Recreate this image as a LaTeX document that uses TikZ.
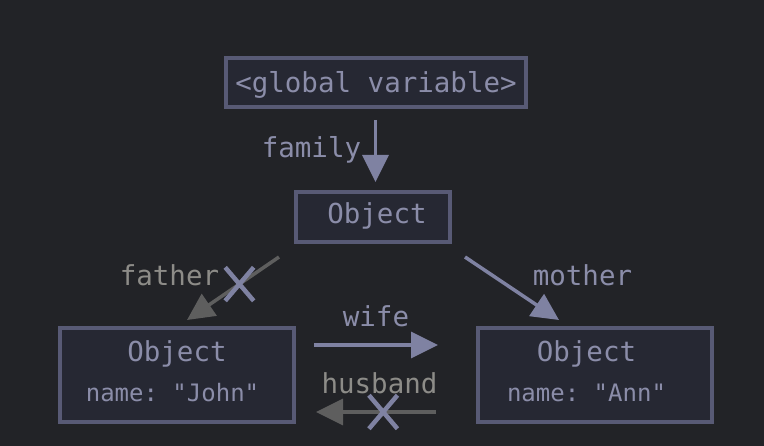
\documentclass[tikz,border=0pt]{standalone}
\usepackage{fontspec}
\setmonofont{DejaVu Sans Mono}
\usetikzlibrary{arrows.meta,calc,shapes.misc}

\definecolor{bgc}{HTML}{222327}
\definecolor{boxfill}{HTML}{262833}
\definecolor{boxline}{HTML}{585A75}
\definecolor{bluetxt}{HTML}{8B8DA9}
\definecolor{bluearrow}{HTML}{7F82A2}
\definecolor{greyarrow}{HTML}{5E5E5E}
\definecolor{greytxt}{HTML}{8D8C88}

\begin{document}
\begin{tikzpicture}[x=1pt,y=-1pt,
    objbox/.style={draw=boxline, fill=boxfill, line width=4pt, inner sep=0pt, outer sep=0pt},
    txt/.style={text=bluetxt, font=\ttfamily\fontsize{27.5}{30}\selectfont, anchor=base, inner sep=0pt},
    small/.style={font=\ttfamily\fontsize{24}{28}\selectfont},
    greyed/.style={text=greytxt},
    ref/.style={draw=bluearrow, line width=3.5pt, -{Triangle[width=26pt,length=27pt]}},
    oldref/.style={ref, draw=greyarrow},
    crossmark/.style={draw=bluearrow, cross out, line width=4.5pt, minimum width=24pt, minimum height=29pt, inner sep=0pt}]
                \fill[bgc] (0,0) rectangle (764,446);
                \useasboundingbox (0,0) rectangle (764,446);
                % boxes
                \node[objbox, minimum width=300pt, minimum height=49pt] (glob) at (375.5,83) {};
                \node[objbox, minimum width=154pt, minimum height=50pt] (obj) at (372.5,217.5) {};
                \node[objbox, minimum width=234pt, minimum height=94pt] (john) at (176.5,375.5) {};
                \node[objbox, minimum width=234pt, minimum height=94pt] (ann) at (594.5,375.5) {};
                \node[txt] (globtxt) at (376,92.5) {<global variable>};
                \node[txt] (objtxt) at (377,224) {Object};
                \node[txt] (johnhead) at (177,362) {Object};
                \node[txt, small] (johnname) at (172.5,402) {name: "John"};
                \node[txt] (annhead) at (586.5,362) {Object};
                \node[txt, small] (annname) at (586.5,402) {name: "Ann"};
                % labels
                \node[txt] (family) at (311.5,158) {family};
                \node[txt, greyed] (father) at (169.5,286) {father};
                \node[txt] (mother) at (582.5,286) {mother};
                \node[txt] (wife) at (376,327) {wife};
                \node[txt, greyed] (husband) at (379.5,394) {husband};
                % references
                \draw[ref, shorten <=12.5pt, shorten >=10.5pt] (glob.south) -- (glob.south |- obj.north);
                \draw[oldref] ($(obj.south west)+(-16.5,14.5)$) -- node[crossmark, pos=0.43] (xfather) {} ($(john.north)+(10.5,-8.5)$);
                \draw[ref] ($(obj.south east)+(15.5,14.5)$) -- ($(ann.north)+(-35.5,-8.5)$);
                \draw[ref] ($(john.east)+(20.5,-30.5)$) -- ($(ann.west)+(-39.5,-30.5)$);
                \draw[oldref] ($(ann.west)+(-41.5,36.5)$) -- node[crossmark, pos=0.44] (xhusband) {} ($(john.east)+(22.5,36.5)$);
            \end{tikzpicture}
\end{document}
